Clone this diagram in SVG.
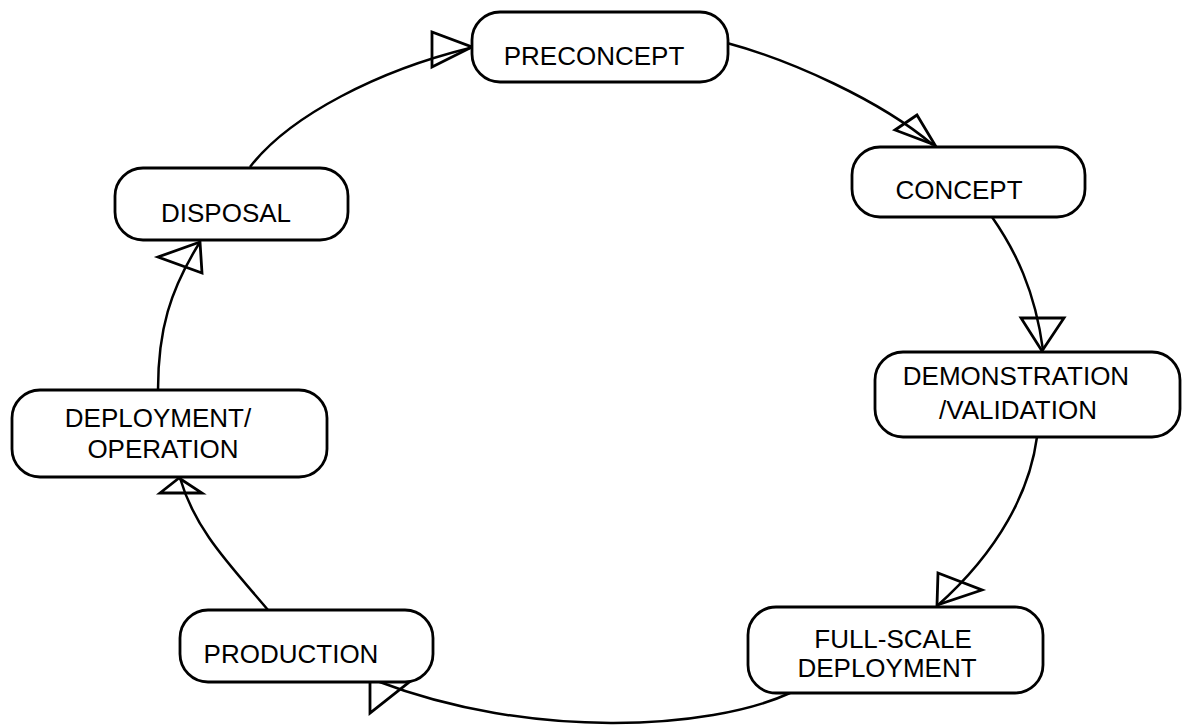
<svg xmlns="http://www.w3.org/2000/svg" width="1183" height="727" viewBox="0 0 1183 727">
<style>
.node rect{fill:#fff;stroke:#000;stroke-width:2.8}
.node text{font-family:"Liberation Sans",Arial,sans-serif;font-size:26px;fill:#000;text-anchor:middle}
.conn path{fill:none;stroke:#000;stroke-width:2.5}
.conn polygon{fill:none;stroke:#000;stroke-width:2.8;stroke-linejoin:miter}
</style>
<rect width="1183" height="727" fill="#fff"/>
<g id="connectors" class="conn">
<path d="M250,167 C290,115 380,70 470,48"/>
<polygon points="432,32 432,67 472,47"/>
<path d="M727,43 C790,60 880,100 933,145"/>
<polygon points="917,115 895,130 935,145"/>
<path d="M992,217 C1015,250 1035,290 1043,350"/>
<polygon points="1021,318 1064,318 1042,351"/>
<path d="M1037,437 C1030,490 1000,550 937,606"/>
<polygon points="938,573 982,590 937,605"/>
<path d="M790,693 C710,730 530,740 377,681"/>
<polygon points="370,681 370,713 413,679"/>
<path d="M268,610 C230,565 195,530 180,478"/>
<polygon points="179,478 160,493 202,493"/>
<path d="M158,390 C158,330 170,290 200,242"/>
<polygon points="200,242 158,257 202,273"/>
</g>
<g id="preconcept" class="node"><rect x="472" y="12" width="256" height="70" rx="28"/><text x="594" y="65">PRECONCEPT</text></g>
<g id="concept" class="node"><rect x="852" y="147" width="233" height="70" rx="28"/><text x="959" y="199">CONCEPT</text></g>
<g id="demonstration" class="node"><rect x="875" y="352" width="305" height="85" rx="28"/><text x="1016" y="385">DEMONSTRATION</text><text x="1018" y="419">/VALIDATION</text></g>
<g id="fullscale" class="node"><rect x="748" y="607" width="295" height="86" rx="28"/><text x="893" y="648">FULL-SCALE</text><text x="887" y="677">DEPLOYMENT</text></g>
<g id="production" class="node"><rect x="180" y="610" width="253" height="72" rx="28"/><text x="291" y="663">PRODUCTION</text></g>
<g id="deployment" class="node"><rect x="12" y="390" width="315" height="87" rx="28"/><text x="158" y="427">DEPLOYMENT/</text><text x="163" y="458">OPERATION</text></g>
<g id="disposal" class="node"><rect x="115" y="168" width="233" height="72" rx="28"/><text x="226" y="222">DISPOSAL</text></g>
</svg>
